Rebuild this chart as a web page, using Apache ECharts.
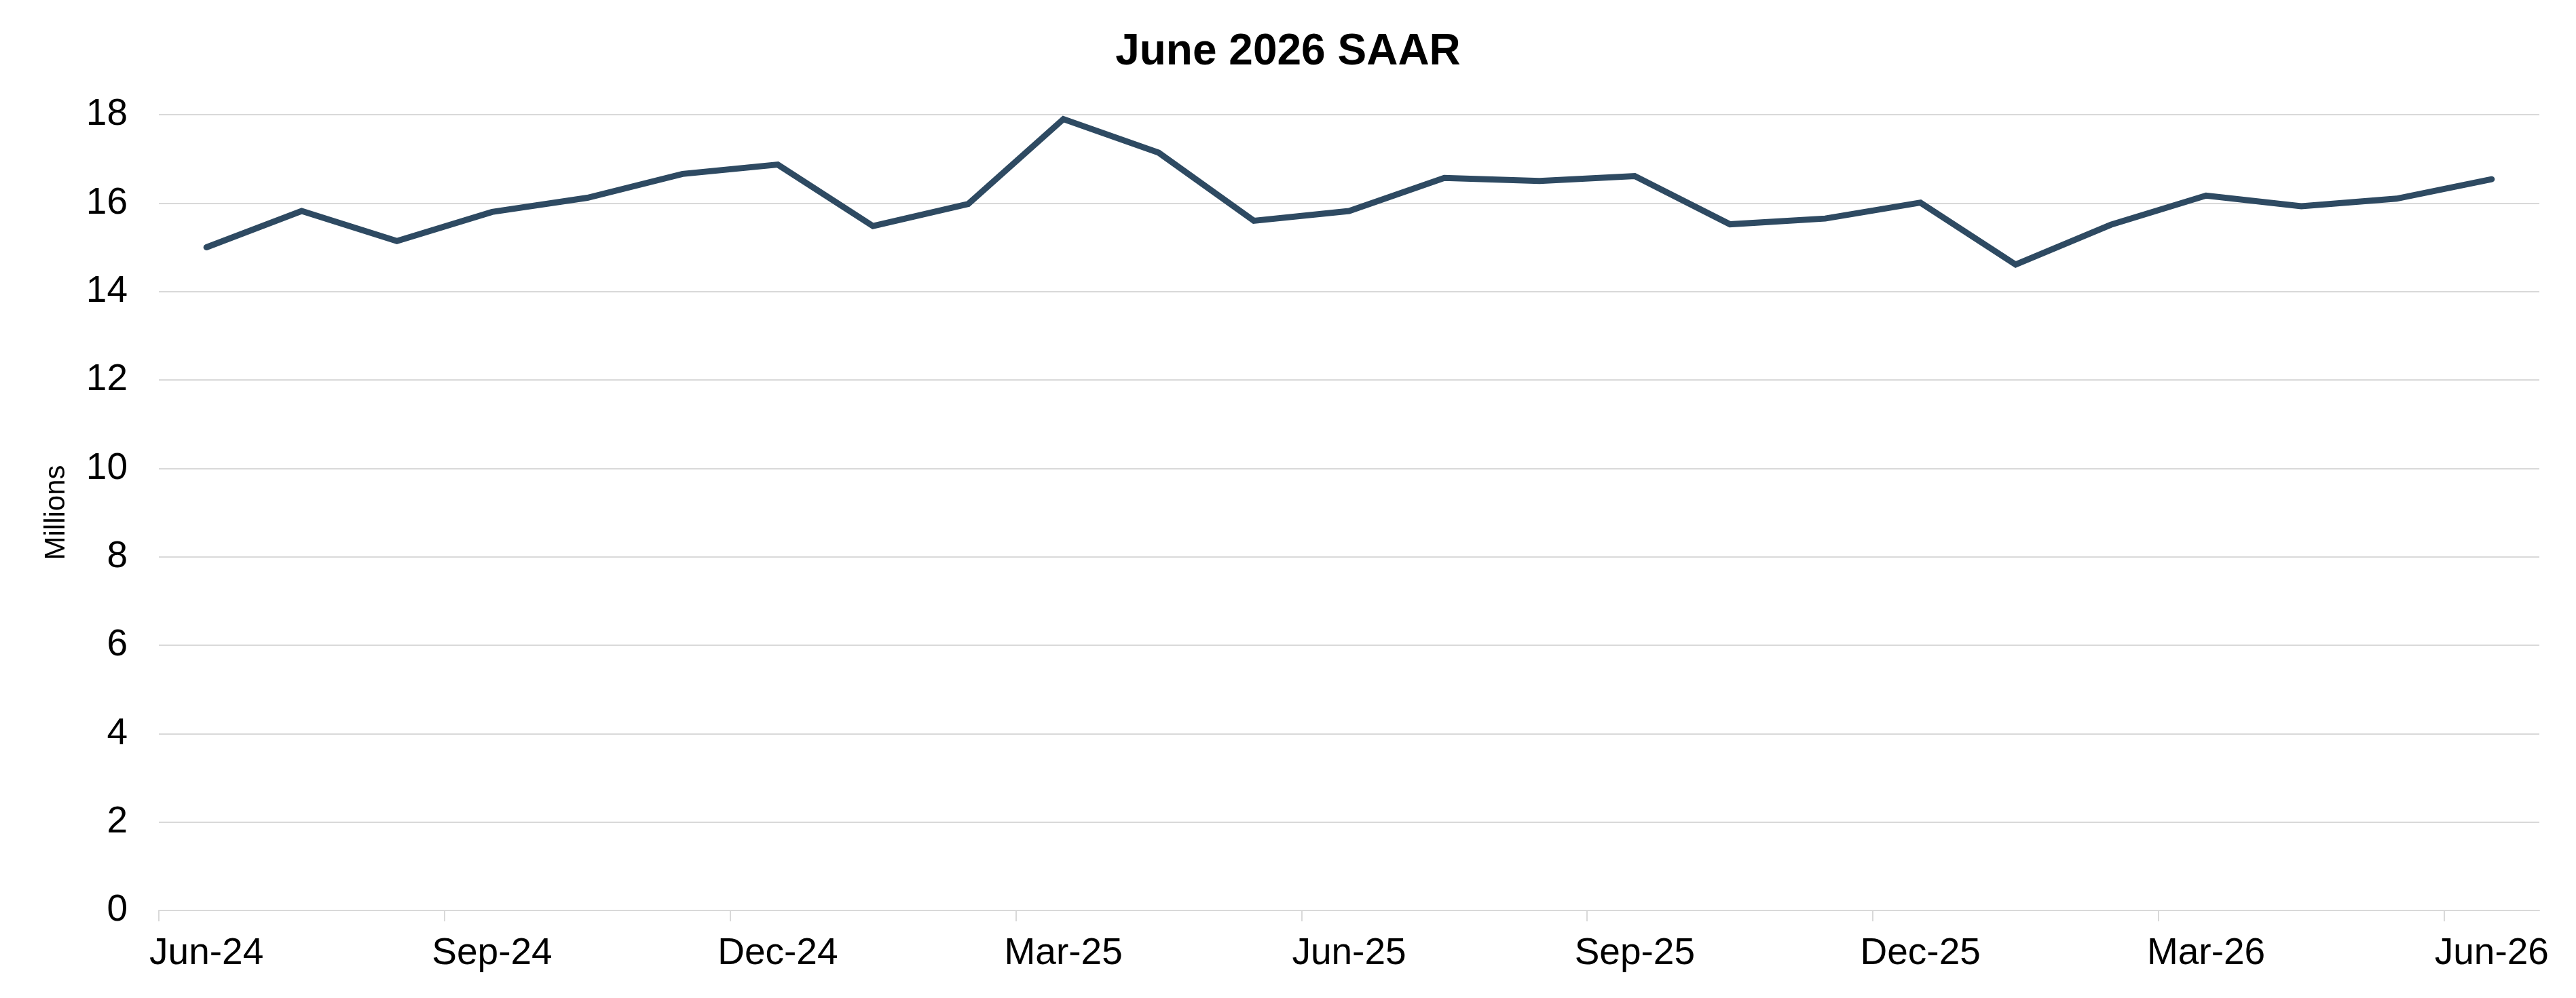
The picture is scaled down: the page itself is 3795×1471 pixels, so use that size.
<!DOCTYPE html>
<html lang="en">
<head>
    <meta charset="utf-8">
    <title>June 2026 SAAR</title>
    <script src="https://cdn.jsdelivr.net/npm/echarts@6/dist/echarts.min.js"></script>
    <style type="text/css">
        html, body {
            width: 100%;
            height: 100%;
            margin: 0px;
            padding: 0px;
            background: #ffffff;
        }

        #main {
            width: 3795px;
            height: 1471px;
        }
    </style>
</head>
<body>
<div id="main"></div>
<script>
    // monthly categories, Jun-24 .. Jun-26
    var months = ['Jun-24', 'Jul-24', 'Aug-24', 'Sep-24', 'Oct-24', 'Nov-24', 'Dec-24',
        'Jan-25', 'Feb-25', 'Mar-25', 'Apr-25', 'May-25', 'Jun-25', 'Jul-25', 'Aug-25',
        'Sep-25', 'Oct-25', 'Nov-25', 'Dec-25', 'Jan-26', 'Feb-26', 'Mar-26', 'Apr-26',
        'May-26', 'Jun-26'];
    // SAAR, millions
    var saar = [15.0, 15.82, 15.14, 15.8, 16.12, 16.66, 16.87,
        15.48, 15.98, 17.9, 17.14, 15.6, 15.82, 16.57, 16.5,
        16.61, 15.52, 15.65, 16.01, 14.61, 15.51, 16.17, 15.93,
        16.1, 16.54];
    var yTicks = { min: 0, max: 18, step: 2 };

    // month boundaries (one more than months) - only used to place the tick marks
    var boundaries = months.concat(['Jul-26']);

    var font = '"Liberation Sans", Arial, Helvetica, sans-serif';
    var myChart = echarts.init(document.getElementById('main'));

    myChart.setOption({
        backgroundColor: '#ffffff',
        animation: false,
        title: {
            text: 'June 2026 SAAR',
            left: 'center',
            top: 40,
            textStyle: {
                fontFamily: font,
                fontSize: 64,
                fontWeight: 'bold',
                color: '#000000'
            }
        },
        grid: {
            left: 234,
            right: 54,
            top: 169,
            bottom: 129
        },
        xAxis: [
            {
                type: 'category',
                data: months,
                boundaryGap: true,
                axisLine: {
                    show: true,
                    lineStyle: { color: '#d9d9d9', width: 2 }
                },
                axisTick: { show: false },
                axisLabel: {
                    interval: 2,
                    margin: 36,
                    fontFamily: font,
                    fontSize: 55,
                    color: '#000000'
                },
                splitLine: { show: false }
            },
            {
                // tick marks on quarter boundaries
                type: 'category',
                data: boundaries,
                position: 'bottom',
                boundaryGap: false,
                axisLine: { show: false },
                axisLabel: { show: false },
                axisTick: {
                    show: true,
                    interval: function (index) { return index % 3 === 0 && index < months.length; },
                    length: 16,
                    lineStyle: { color: '#d9d9d9', width: 2 }
                },
                splitLine: { show: false }
            }
        ],
        yAxis: {
            type: 'value',
            min: yTicks.min,
            max: yTicks.max,
            interval: yTicks.step,
            name: 'Millions',
            nameLocation: 'middle',
            nameGap: 130,
            nameTextStyle: {
                fontFamily: font,
                fontSize: 42,
                color: '#000000'
            },
            axisLine: { show: false },
            axisTick: { show: false },
            axisLabel: {
                margin: 46,
                fontFamily: font,
                fontSize: 55,
                color: '#000000'
            },
            splitLine: {
                lineStyle: { color: '#d9d9d9', width: 2 }
            }
        },
        series: [
            {
                type: 'line',
                xAxisIndex: 0,
                data: saar,
                symbol: 'none',
                smooth: false,
                lineStyle: {
                    color: '#2e4a62',
                    width: 9,
                    cap: 'round',
                    join: 'miter'
                },
                itemStyle: { color: '#2e4a62' }
            }
        ]
    });
</script>
</body>
</html>
